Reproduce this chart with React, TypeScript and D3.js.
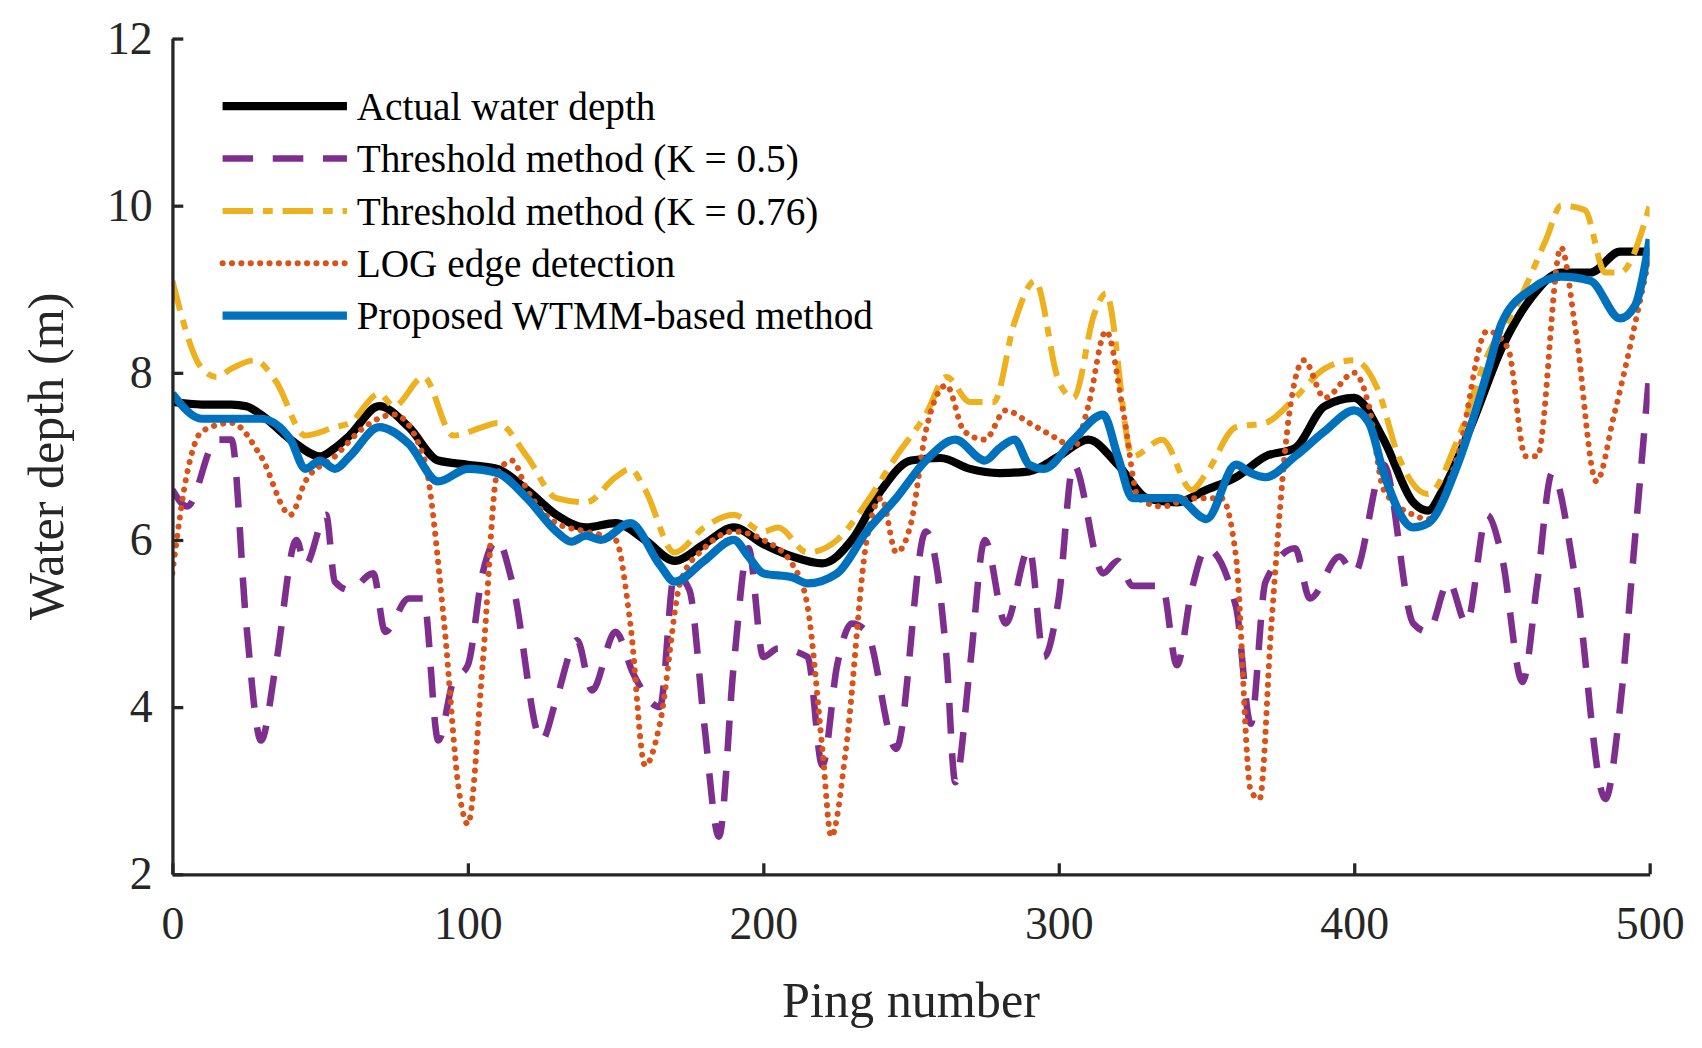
import React, { useEffect, useRef } from 'react';
import * as d3 from 'd3';

type P = [number, number];

const actual: P[] = [[0,7.65],[10,7.62],[20,7.62],[25,7.6],[30,7.5],[40,7.2],[50,7.0],[55,7.1],[60,7.25],[70,7.6],[80,7.35],[90,6.95],[100,6.9],[110,6.85],[120,6.6],[130,6.3],[140,6.15],[150,6.2],[160,6.0],[170,5.75],[180,5.95],[190,6.15],[200,5.95],[210,5.8],[220,5.72],[230,6.0],[240,6.6],[250,6.95],[260,6.98],[270,6.85],[280,6.8],[290,6.82],[300,7.0],[310,7.2],[320,6.9],[330,6.5],[340,6.45],[350,6.6],[360,6.75],[370,7.0],[380,7.1],[390,7.6],[400,7.7],[410,7.2],[420,6.45],[425,6.35],[430,6.6],[440,7.4],[450,8.3],[460,8.9],[470,9.2],[480,9.2],[490,9.45],[500,9.45]];

const thresh05: P[] = [[0,6.6],[5,6.4],[15,7.2],[20,7.2],[25,5.0],[30,3.6],[35,4.5],[42,6.0],[45,5.7],[52,6.3],[55,5.5],[60,5.4],[68,5.6],[72,4.9],[80,5.3],[85,5.3],[90,3.6],[95,4.3],[100,4.5],[105,5.6],[110,6.0],[115,5.5],[125,3.6],[130,4.1],[137,4.8],[142,4.2],[150,4.9],[156,4.4],[165,4.0],[170,5.6],[175,5.4],[180,3.8],[185,2.45],[190,4.5],[195,5.9],[200,4.6],[205,4.7],[215,4.6],[220,3.3],[225,4.5],[230,5.0],[235,4.9],[245,3.5],[255,6.1],[262,4.6],[265,3.1],[270,4.5],[275,6.0],[282,5.0],[290,5.9],[295,4.6],[300,5.3],[305,6.9],[315,5.6],[320,5.75],[325,5.45],[335,5.45],[340,4.5],[345,5.4],[350,5.9],[360,5.2],[365,3.8],[370,5.5],[380,5.9],[385,5.3],[395,5.8],[400,5.6],[410,6.9],[420,5.0],[425,4.9],[432,5.5],[438,5.0],[445,6.3],[450,5.8],[457,4.3],[462,5.5],[467,6.8],[475,5.5],[485,2.9],[490,4.0],[495,6.0],[500,8.05]];

const thresh076: P[] = [[0,9.1],[10,8.05],[15,7.95],[20,8.05],[28,8.15],[35,7.9],[45,7.25],[55,7.35],[60,7.4],[70,7.75],[75,7.6],[85,7.95],[95,7.25],[105,7.35],[110,7.4],[120,7.0],[130,6.5],[140,6.45],[150,6.75],[155,6.85],[160,6.6],[170,5.85],[180,6.15],[190,6.3],[200,6.1],[205,6.15],[215,5.85],[225,6.0],[235,6.45],[245,7.0],[255,7.5],[262,7.95],[270,7.65],[278,7.65],[285,8.6],[292,9.1],[300,7.9],[305,7.7],[312,8.7],[316,8.95],[325,7.0],[335,7.2],[345,6.6],[350,6.8],[360,7.35],[370,7.4],[380,7.7],[390,8.05],[400,8.15],[408,7.8],[415,7.0],[425,6.55],[435,7.2],[445,8.2],[455,8.8],[465,9.6],[470,10.0],[478,9.95],[485,9.2],[490,9.2],[500,10.0]];

const logEdge: P[] = [[0,5.6],[5,6.8],[10,7.3],[20,7.4],[30,7.0],[40,6.3],[45,6.7],[55,7.0],[65,7.35],[75,7.5],[85,7.0],[92,5.0],[97,3.0],[100,2.6],[105,4.5],[110,6.8],[115,6.95],[120,6.6],[130,6.2],[140,6.1],[150,6.0],[155,5.0],[160,3.3],[165,3.8],[172,5.5],[180,5.9],[190,6.1],[200,6.0],[210,5.7],[215,5.2],[220,3.5],[223,2.45],[228,3.5],[235,6.0],[240,6.5],[245,5.85],[250,6.2],[255,7.3],[262,7.85],[268,7.3],[275,7.2],[282,7.55],[290,7.4],[300,7.2],[305,7.1],[310,7.6],[316,8.5],[322,7.5],[327,6.5],[335,6.4],[345,6.5],[355,6.5],[360,5.8],[365,3.0],[368,2.9],[372,5.0],[378,7.5],[383,8.15],[390,7.7],[400,8.0],[405,7.6],[410,6.6],[420,6.3],[425,6.25],[435,7.0],[445,8.5],[452,8.3],[458,7.0],[462,7.0],[470,9.5],[475,8.5],[482,6.7],[488,7.5],[500,9.4]];

const wtmm: P[] = [[0,7.75],[10,7.45],[20,7.45],[30,7.45],[40,7.2],[45,6.85],[50,6.95],[55,6.85],[60,7.0],[70,7.35],[80,7.15],[90,6.7],[100,6.85],[110,6.8],[120,6.5],[130,6.1],[135,5.98],[140,6.05],[145,6.0],[155,6.2],[165,5.7],[170,5.5],[180,5.75],[190,6.0],[195,5.8],[200,5.6],[210,5.55],[215,5.48],[225,5.6],[235,6.1],[245,6.5],[255,6.95],[265,7.2],[275,6.95],[280,7.1],[285,7.2],[290,6.9],[295,6.85],[305,7.2],[315,7.5],[320,7.0],[325,6.5],[335,6.5],[340,6.5],[350,6.25],[360,6.9],[365,6.8],[370,6.75],[380,7.0],[390,7.3],[400,7.55],[405,7.4],[410,6.8],[420,6.15],[425,6.2],[435,6.9],[445,8.0],[450,8.6],[460,9.0],[470,9.15],[480,9.1],[490,8.65],[495,8.8],[500,9.6]];

const xTicks = [0, 100, 200, 300, 400, 500];
const yTicks = [2, 4, 6, 8, 10, 12];

const series = [
  { name: 'Actual water depth', data: actual, color: '#000000', width: 7.5, dash: '', cap: 'butt' },
  { name: 'Threshold method (K = 0.5)', data: thresh05, color: '#7e2f8e', width: 6, dash: '28,18', cap: 'butt' },
  { name: 'Threshold method (K = 0.76)', data: thresh076, color: '#edb120', width: 5.5, dash: '28,9,9,9', cap: 'butt' },
  { name: 'LOG edge detection', data: logEdge, color: '#d95319', width: 5.5, dash: '0.1,8.5', cap: 'round' },
  { name: 'Proposed WTMM-based method', data: wtmm, color: '#0072bd', width: 7.5, dash: '', cap: 'butt' },
];

export default function App() {
  const ref = useRef<SVGSVGElement>(null);
  useEffect(() => {
    const svg = d3.select(ref.current);
    svg.selectAll('*').remove();
    const W = 1560, H = 960;
    const left = 158, right = 1512, top = 35, bottom = 801;
    const x = d3.scaleLinear().domain([0, 500]).range([left, right]);
    const y = d3.scaleLinear().domain([2, 12]).range([bottom, top]);
    const font = '"Liberation Serif", "Times New Roman", serif';

    svg.append('rect').attr('width', W).attr('height', H).attr('fill', 'white');

    const plot = svg.append('g');
    plot.append('clipPath').attr('id', 'clip').append('rect')
      .attr('x', left).attr('y', top).attr('width', right - left).attr('height', bottom - top);
    const line = d3.line<P>().x(d => x(d[0])).y(d => y(d[1])).curve(d3.curveMonotoneX);
    series.forEach(s => {
      plot.append('path').attr('d', line(s.data)).attr('fill', 'none')
        .attr('stroke', s.color).attr('stroke-width', s.width)
        .attr('stroke-dasharray', s.dash || null).attr('stroke-linecap', s.cap)
        .attr('stroke-linejoin', 'round').attr('clip-path', 'url(#clip)');
    });

    const xa = svg.append('g').attr('transform', `translate(0,${bottom})`)
      .call(d3.axisBottom(x).tickValues(xTicks).tickSize(-10).tickPadding(30).tickSizeOuter(0));
    const ya = svg.append('g').attr('transform', `translate(${left},0)`)
      .call(d3.axisLeft(y).tickValues(yTicks).tickSize(-10).tickPadding(18).tickSizeOuter(0));
    [xa, ya].forEach(a => {
      a.select('.domain').attr('stroke', '#262626').attr('stroke-width', 3);
      a.selectAll('line').attr('stroke', '#262626').attr('stroke-width', 3);
      a.selectAll('text').attr('font-family', font).attr('font-size', 42).attr('fill', '#262626');
    });
    xa.selectAll('text').attr('dy', '0.71em');

    svg.append('text').attr('x', (left + right) / 2).attr('y', 932).attr('text-anchor', 'middle')
      .attr('font-family', font).attr('font-size', 46).attr('fill', '#262626').text('Ping number');
    svg.append('text').attr('transform', `translate(58,${(top + bottom) / 2}) rotate(-90)`)
      .attr('text-anchor', 'middle').attr('font-family', font).attr('font-size', 46).attr('fill', '#262626')
      .text('Water depth (m)');

    const lg = svg.append('g');
    series.forEach((s, i) => {
      const yy = 97 + i * 48;
      lg.append('line').attr('x1', 204).attr('x2', 318).attr('y1', yy).attr('y2', yy)
        .attr('stroke', s.color).attr('stroke-width', s.width)
        .attr('stroke-dasharray', s.dash || null).attr('stroke-linecap', s.cap);
      lg.append('text').attr('x', 327).attr('y', yy).attr('dy', '0.35em')
        .attr('font-family', font).attr('font-size', 36).attr('fill', '#000').text(s.name);
    });
  }, []);
  return (
    <svg ref={ref} width={1702} height={1048} viewBox="0 0 1560 960"
      style={{ display: 'block', margin: -8 }} />
  );
}
